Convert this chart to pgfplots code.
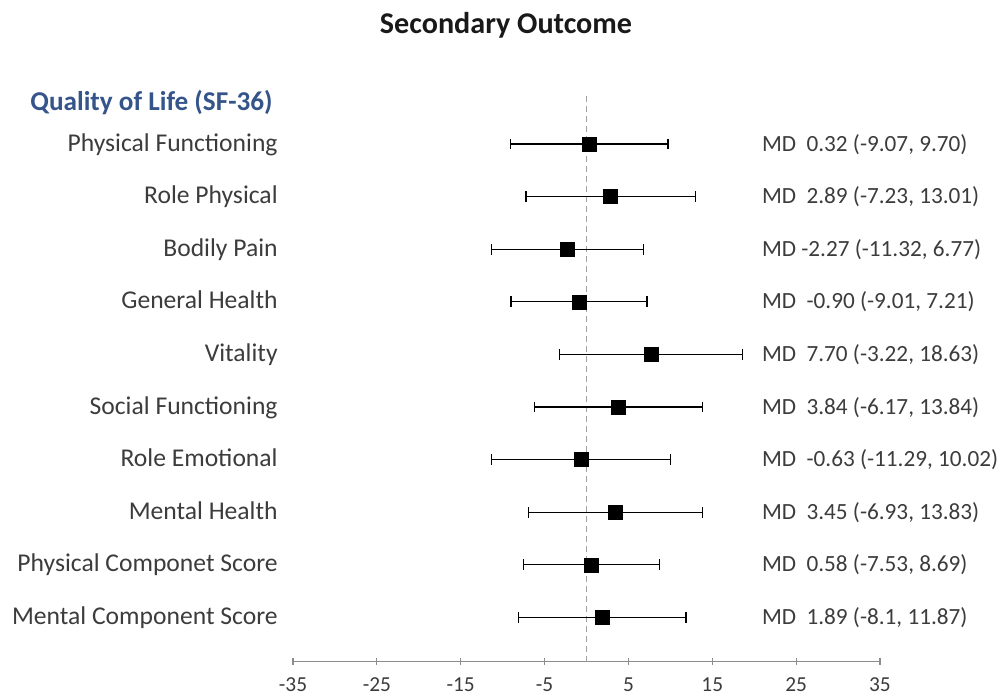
\documentclass[border=0pt]{standalone}
\usepackage{pgfplots}
\pgfplotsset{compat=1.18}
\usepackage{pgfplotstable}
\usepackage{fontspec}
\setmainfont{Carlito}
\definecolor{txt}{HTML}{3C3C3C}
\definecolor{qol}{HTML}{35558A}
\definecolor{axg}{HTML}{8C8C8C}
\definecolor{dsh}{HTML}{A0A0A0}

\pgfplotstableread{
y  md    lo      hi
10 0.32  -9.07   9.70
9  2.89  -7.23   13.01
8  -2.27 -11.32  6.77
7  -0.90 -9.01   7.21
6  7.70  -3.22   18.63
5  3.84  -6.17   13.84
4  -0.63 -11.29  10.02
3  3.45  -6.93   13.83
2  0.58  -7.53   8.69
1  1.89  -8.1    11.87
}\data

\newcommand{\rl}{\fontsize{19.2}{22}\selectfont}
\newcommand{\md}{\fontsize{17.4}{20}\selectfont}
\begin{document}
\begin{tikzpicture}
\begin{axis}[
  scale only axis, width=440.25pt, height=427.6pt,
  xmin=-35, xmax=35, ymin=0.16, ymax=11,
  axis x line*=bottom, axis y line=none,
  x axis line style={axg, line width=0.9pt, -},
  xtick={-35,-25,-15,-5,5,15,25,35},
  major tick length=5pt, tick align=center,
  tick style={axg, line width=0.9pt},
  xticklabel style={font=\fontsize{16}{19}\selectfont, text=txt, yshift=-6pt},
  /pgf/number format/assume math mode=true,
  clip=false,
]
\draw[dsh, line width=1.2pt, dash pattern=on 4.5pt off 3pt] (axis cs:0,0.16) -- (axis cs:0,10.97);
\addplot[only marks, mark=none,
  error bars/.cd, x dir=both, x explicit, error mark=|,
  error mark options={black, mark size=4pt, line width=1pt},
  error bar style={black, line width=1pt}]
  table[x=md, y=y, x error plus expr=\thisrow{hi}-\thisrow{md}, x error minus expr=\thisrow{md}-\thisrow{lo}] {\data};
\addplot[only marks, mark=square*, mark size=5.25pt, black] table[x=md, y=y] {\data};

\begin{scope}[every node/.style={inner sep=0pt, text=txt, font=\rl, yshift=-3pt}]
\node[anchor=mid east] at (axis cs:-36.8,10) {Physical Functioning};
\node[anchor=mid east] at (axis cs:-36.8,9) {Role Physical};
\node[anchor=mid east] at (axis cs:-36.8,8) {Bodily Pain};
\node[anchor=mid east] at (axis cs:-36.8,7) {General Health};
\node[anchor=mid east] at (axis cs:-36.8,6) {Vitality};
\node[anchor=mid east] at (axis cs:-36.8,5) {Social Functioning};
\node[anchor=mid east] at (axis cs:-36.8,4) {Role Emotional};
\node[anchor=mid east] at (axis cs:-36.8,3) {Mental Health};
\node[anchor=mid east] at (axis cs:-36.8,2) {Physical Componet Score};
\node[anchor=mid east] at (axis cs:-36.8,1) {Mental Component Score};
\end{scope}

\begin{scope}[every node/.style={inner sep=0pt, text=txt, font=\md, yshift=-3pt, anchor=mid west}]
\node at (axis cs:20.9,10) {MD\ \ 0.32 (-9.07, 9.70)};
\node at (axis cs:20.9,9) {MD\ \ 2.89 (-7.23, 13.01)};
\node at (axis cs:20.9,8) {MD -2.27 (-11.32, 6.77)};
\node at (axis cs:20.9,7) {MD\ \ -0.90 (-9.01, 7.21)};
\node at (axis cs:20.9,6) {MD\ \ 7.70 (-3.22, 18.63)};
\node at (axis cs:20.9,5) {MD\ \ 3.84 (-6.17, 13.84)};
\node at (axis cs:20.9,4) {MD\ \ -0.63 (-11.29, 10.02)};
\node at (axis cs:20.9,3) {MD\ \ 3.45 (-6.93, 13.83)};
\node at (axis cs:20.9,2) {MD\ \ 0.58 (-7.53, 8.69)};
\node at (axis cs:20.9,1) {MD\ \ 1.89 (-8.1, 11.87)};
\end{scope}

\node[inner sep=0pt, anchor=mid east, text=qol, font=\fontsize{20.4}{24}\selectfont\bfseries, yshift=-3pt] at (axis cs:-37.4,10.78) {Quality of Life (SF-36)};
\node[inner sep=0pt, anchor=mid, text=black!90, font=\fontsize{22.6}{26}\selectfont\bfseries, yshift=-4pt] at (axis cs:-9.6,12.26) {Secondary Outcome};

\coordinate (bl) at (axis cs:-69.94,-0.521);
\coordinate (tr) at (axis cs:49.55,12.738);
\end{axis}
\pgfresetboundingbox
\path (bl) rectangle (tr);
\end{tikzpicture}
\end{document}
